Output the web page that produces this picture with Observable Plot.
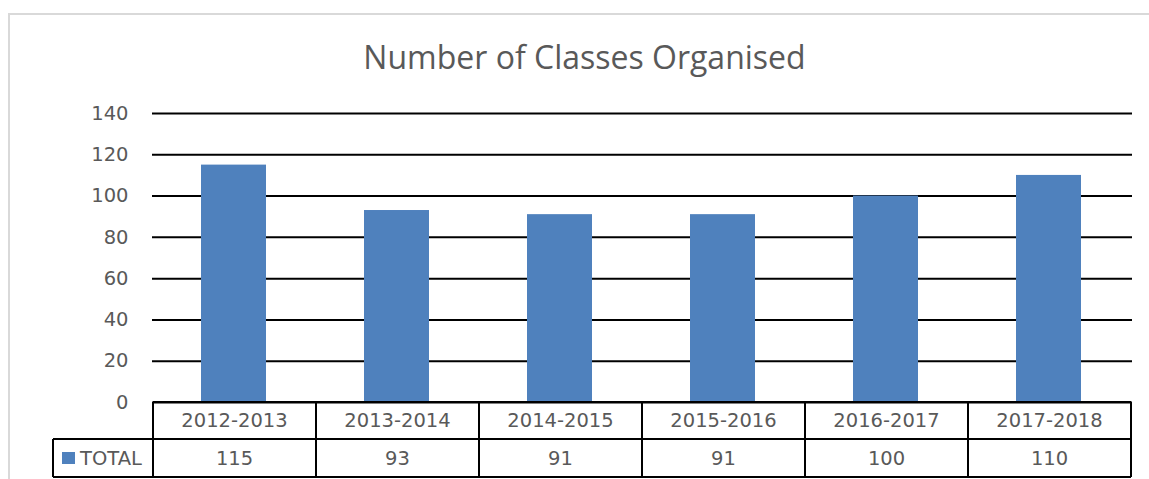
<!DOCTYPE html>
<html><head><meta charset="utf-8">
<script src="https://cdn.jsdelivr.net/npm/d3@7"></script>
<script src="https://cdn.jsdelivr.net/npm/@observablehq/plot@0.6"></script>
<style>
html,body{margin:0;padding:0;background:#fff;overflow:hidden;width:1149px;height:479px;}
#frame{position:absolute;left:8px;top:13px;width:1200px;height:600px;border:2px solid #d9d9d9;box-sizing:border-box;}
#title{position:absolute;left:0;width:1169px;top:41px;line-height:1;text-align:center;font-family:"Open Sans";font-size:32px;color:#595959;white-space:nowrap;}
#chart{position:absolute;left:0;top:90px;}
</style></head><body>
<div id="frame"></div>
<div id="title">Number of Classes Organised</div>
<div id="chart"></div>
<script>
const categories = ["2012-2013", "2013-2014", "2014-2015", "2015-2016", "2016-2017", "2017-2018"];
const totals = [115, 93, 91, 91, 100, 110];
const yTicks = [0, 20, 40, 60, 80, 100, 120, 140];
const seriesName = "TOTAL";

const data = categories.map((c, i) => ({category: c, total: totals[i]}));
const textColor = "#595959";
const barColor = "#4F81BD";
const labelSize = "19.5px";

function dataTable(index, scales, values, dims) {
  const x = scales.x;
  const n = categories.length;
  const step = x(categories[1]) - x(categories[0]);
  const left = x(categories[0]);
  const right = x(categories[n - 1]) + step;
  const top = dims.height - dims.marginBottom;
  const mid = top + 37;
  const bottom = top + 75;
  const legendLeft = 53;
  const g = d3.create("svg:g").attr("font-size", labelSize).attr("font-family", "DejaVu Sans");
  const line = (x1, y1, x2, y2) => g.append("line")
    .attr("x1", x1).attr("y1", y1).attr("x2", x2).attr("y2", y2)
    .attr("stroke", "black").attr("stroke-width", 2);
  line(left, top, right, top);
  line(legendLeft, mid, right, mid);
  line(legendLeft, bottom, right, bottom);
  line(legendLeft, mid, legendLeft, bottom);
  for (let i = 0; i <= n; i++) line(left + i * step, top, left + i * step, bottom);
  categories.forEach((c, i) => {
    const cx = x(c) + step / 2;
    g.append("text").attr("x", cx).attr("y", (top + mid) / 2).attr("dy", "0.35em")
      .attr("text-anchor", "middle").attr("fill", textColor).text(c);
    g.append("text").attr("x", cx).attr("y", (mid + bottom) / 2).attr("dy", "0.35em")
      .attr("text-anchor", "middle").attr("fill", textColor).text(totals[i]);
  });
  const cy = (mid + bottom) / 2;
  g.append("rect").attr("x", 62).attr("y", cy - 6).attr("width", 13).attr("height", 12).attr("fill", barColor);
  g.append("text").attr("x", 80).attr("y", cy).attr("dy", "0.35em")
    .attr("text-anchor", "start").attr("fill", textColor).text(seriesName);
  return g.node();
}

const chart = Plot.plot({
  width: 1149,
  height: 389,
  marginTop: 23,
  marginBottom: 77,
  marginLeft: 152,
  marginRight: 17,
  style: "font-family: 'DejaVu Sans'; font-size: 19.5px; color: #595959; background: transparent; overflow: visible;",
  x: {type: "band", domain: categories, padding: 0, axis: null},
  y: {domain: [0, 140], axis: null},
  marks: [
    Plot.axisY({ticks: yTicks, tickSize: 0, tickPadding: 24, label: null, fontSize: 19.5, fill: textColor}),
    Plot.ruleY(yTicks, {stroke: "black", strokeWidth: 2}),
    Plot.barY(data, {x: "category", y: "total", fill: barColor, insetLeft: 48, insetRight: 50}),
    dataTable
  ]
});
document.getElementById("chart").appendChild(chart);
</script>
</body></html>
